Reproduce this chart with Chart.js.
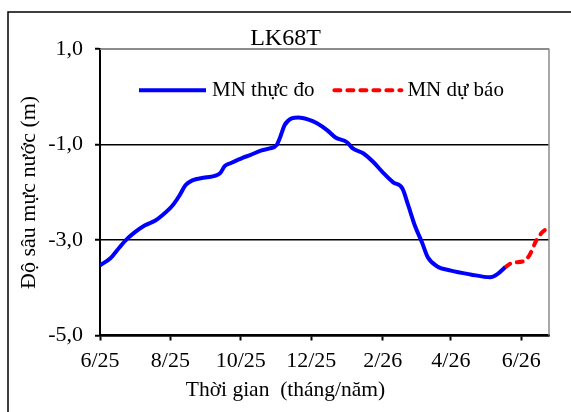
<!DOCTYPE html>
<html>
<head>
<meta charset="utf-8">
<script src="https://cdn.jsdelivr.net/npm/chart.js@4"></script>
<style>
  html, body { margin: 0; padding: 0; background: #fff; }
  canvas { display: block; }
</style>
</head>
<body>
<canvas id="lkChart" width="571" height="412"></canvas>
<script>
// Số liệu đọc từ biểu đồ LK68T
var startDate = "2025-06-01";
var endDate = "2026-06-25";

var measuredDates = ["2025-06-01", "2025-06-10", "2025-06-18", "2025-06-23", "2025-07-01", "2025-07-10",
    "2025-07-19", "2025-07-25", "2025-08-03", "2025-08-09", "2025-08-14", "2025-08-20", "2025-08-31",
    "2025-09-13", "2025-09-17", "2025-09-22", "2025-10-03", "2025-10-09", "2025-10-19", "2025-10-26",
    "2025-11-01", "2025-11-04", "2025-11-08", "2025-11-14", "2025-11-20", "2025-11-28", "2025-12-06",
    "2025-12-15", "2025-12-22", "2026-01-01", "2026-01-06", "2026-01-15", "2026-01-24", "2026-02-01",
    "2026-02-10", "2026-02-18", "2026-02-23", "2026-03-01", "2026-03-07", "2026-03-12", "2026-03-20",
    "2026-04-01", "2026-04-18", "2026-05-05", "2026-05-11", "2026-05-18"];
var measuredDepth = [-3.53, -3.38, -3.15, -3.01, -2.84, -2.69,
    -2.59, -2.48, -2.27, -2.06, -1.85, -1.75, -1.69,
    -1.60, -1.45, -1.39, -1.27, -1.22, -1.12, -1.08,
    -1.01, -0.85, -0.59, -0.45, -0.43, -0.47, -0.55,
    -0.70, -0.85, -0.95, -1.08, -1.18, -1.37, -1.58,
    -1.79, -1.92, -2.27, -2.71, -3.05, -3.36, -3.55,
    -3.64, -3.72, -3.78, -3.72, -3.57];

var forecastDates = ["2026-05-18", "2026-05-25", "2026-06-02", "2026-06-08", "2026-06-14", "2026-06-19", "2026-06-25"];
var forecastDepth = [-3.57, -3.47, -3.45, -3.32, -3.01, -2.84, -2.73];

var tickDates = ["2025-06-01", "2025-08-01", "2025-10-01", "2025-12-01", "2026-02-01", "2026-04-01", "2026-06-01"];
var tickLabels = ["6/25", "8/25", "10/25", "12/25", "2/26", "4/26", "6/26"];

var yTicks = [1, -1, -3, -5];

// đổi ngày sang số ngày kể từ startDate
function dayOf(s) {
    var p = s.split("-");
    var q = startDate.split("-");
    return (Date.UTC(+p[0], p[1] - 1, +p[2]) - Date.UTC(+q[0], q[1] - 1, +q[2])) / 86400000;
}
function toPoints(dates, values) {
    return dates.map(function (d, i) { return { x: dayOf(d), y: values[i] }; });
}

var serif = "'Liberation Serif', 'Times New Roman', serif";
Chart.defaults.font.family = serif;
Chart.defaults.color = "#000";

var framePlugin = {
    id: "frame",
    beforeDraw: function (chart) {
        var ctx = chart.ctx;
        ctx.save();
        ctx.fillStyle = "#fff";
        ctx.fillRect(0, 0, chart.width, chart.height);
        ctx.strokeStyle = "#000";
        ctx.lineWidth = 1.5;
        ctx.beginPath();
        ctx.moveTo(8, chart.height);
        ctx.lineTo(8, 12);
        ctx.lineTo(chart.width, 12);
        ctx.stroke();
        ctx.restore();
    },
    beforeDatasetsDraw: function (chart) {
        var a = chart.chartArea, ctx = chart.ctx;
        ctx.save();
        ctx.strokeStyle = "#8c8c8c";
        ctx.lineWidth = 1.5;
        ctx.beginPath();
        ctx.moveTo(a.left, a.top);
        ctx.lineTo(a.right, a.top);
        ctx.lineTo(a.right, a.bottom);
        ctx.stroke();
        ctx.restore();
    }
};

// chú thích nằm trong vùng vẽ, một hàng
var insideLegend = {
    id: "insideLegend",
    afterDraw: function (chart) {
        var a = chart.chartArea, ctx = chart.ctx;
        var x = a.left + 39, y = a.top + 41;
        ctx.save();
        ctx.font = "21px " + serif;
        ctx.textBaseline = "middle";
        ctx.textAlign = "left";
        chart.data.datasets.forEach(function (ds) {
            ctx.strokeStyle = ds.borderColor;
            ctx.lineWidth = ds.borderWidth;
            ctx.lineCap = ds.borderCapStyle || "butt";
            ctx.setLineDash(ds.borderDash || []);
            ctx.beginPath();
            ctx.moveTo(x, y);
            ctx.lineTo(x + 67, y);
            ctx.stroke();
            ctx.setLineDash([]);
            ctx.fillStyle = "#000";
            ctx.fillText(ds.label, x + 73, y);
            x += 73 + ctx.measureText(ds.label).width + 20;
        });
        ctx.restore();
    }
};

var lkCanvas = document.getElementById("lkChart");
var lkChart = new Chart(lkCanvas, {
    type: "line",
    data: {
        datasets: [{
            label: "MN thực đo",
            data: toPoints(measuredDates, measuredDepth),
            borderColor: "#0000ff",
            backgroundColor: "#0000ff",
            borderWidth: 4,
            pointRadius: 0,
            cubicInterpolationMode: "monotone",
            fill: false
        }, {
            label: "MN dự báo",
            data: toPoints(forecastDates, forecastDepth),
            borderColor: "#ff0000",
            backgroundColor: "#ff0000",
            borderWidth: 4,
            borderDash: [6, 7],
            borderCapStyle: "round",
            pointRadius: 0,
            cubicInterpolationMode: "monotone",
            fill: false
        }]
    },
    options: {
        responsive: false,
        animation: false,
        devicePixelRatio: 1,
        layout: { padding: 0 },
        plugins: {
            title: {
                display: true,
                text: "LK68T",
                font: { size: 24, weight: "normal", lineHeight: 0.8 },
                padding: { top: 29, bottom: 1 }
            },
            subtitle: {
                display: true,
                position: "bottom",
                text: "Thời gian  (tháng/năm)",
                font: { size: 21.5, lineHeight: 1 },
                padding: { top: 0, bottom: 11 }
            },
            legend: { display: false },
            tooltip: { enabled: false }
        },
        scales: {
            x: {
                type: "linear",
                min: dayOf(startDate),
                max: dayOf(endDate),
                afterBuildTicks: function (scale) {
                    scale.ticks = tickDates.map(function (d) { return { value: dayOf(d) }; });
                },
                afterFit: function (scale) { scale.height = 44; },
                ticks: {
                    autoSkip: false,
                    maxRotation: 0,
                    padding: 8,
                    font: { size: 22 },
                    callback: function (value) {
                        var i = tickDates.map(dayOf).indexOf(value);
                        return i >= 0 ? tickLabels[i] : "";
                    }
                },
                grid: {
                    drawOnChartArea: false,
                    tickLength: 5,
                    tickWidth: 2,
                    tickColor: "#000"
                },
                border: { color: "#000", width: 2.5 }
            },
            y: {
                min: -5,
                max: 1,
                afterBuildTicks: function (scale) {
                    scale.ticks = yTicks.map(function (v) { return { value: v }; });
                },
                afterFit: function (scale) { scale.width = 100; },
                ticks: {
                    padding: 12,
                    font: { size: 22 },
                    callback: function (value) {
                        return value.toFixed(1).replace(".", ",");
                    }
                },
                title: {
                    display: true,
                    text: "Độ sâu mực nước (m)",
                    font: { size: 22, lineHeight: 1 },
                    padding: { top: 18, bottom: 0 }
                },
                grid: {
                    color: function (c) { return c.tick && c.tick.value === 1 ? "#8c8c8c" : "#000"; },
                    lineWidth: 1.5,
                    tickLength: 5,
                    tickWidth: 2,
                    tickColor: "#000"
                },
                border: { color: "#000", width: 2 }
            },
            // trục phải trống, chỉ để chừa lề
            yRight: {
                position: "right",
                min: -5,
                max: 1,
                afterFit: function (scale) { scale.width = 22; },
                ticks: { display: false },
                grid: { display: false },
                border: { display: false }
            }
        }
    },
    plugins: [framePlugin, insideLegend]
});
</script>
</body>
</html>
